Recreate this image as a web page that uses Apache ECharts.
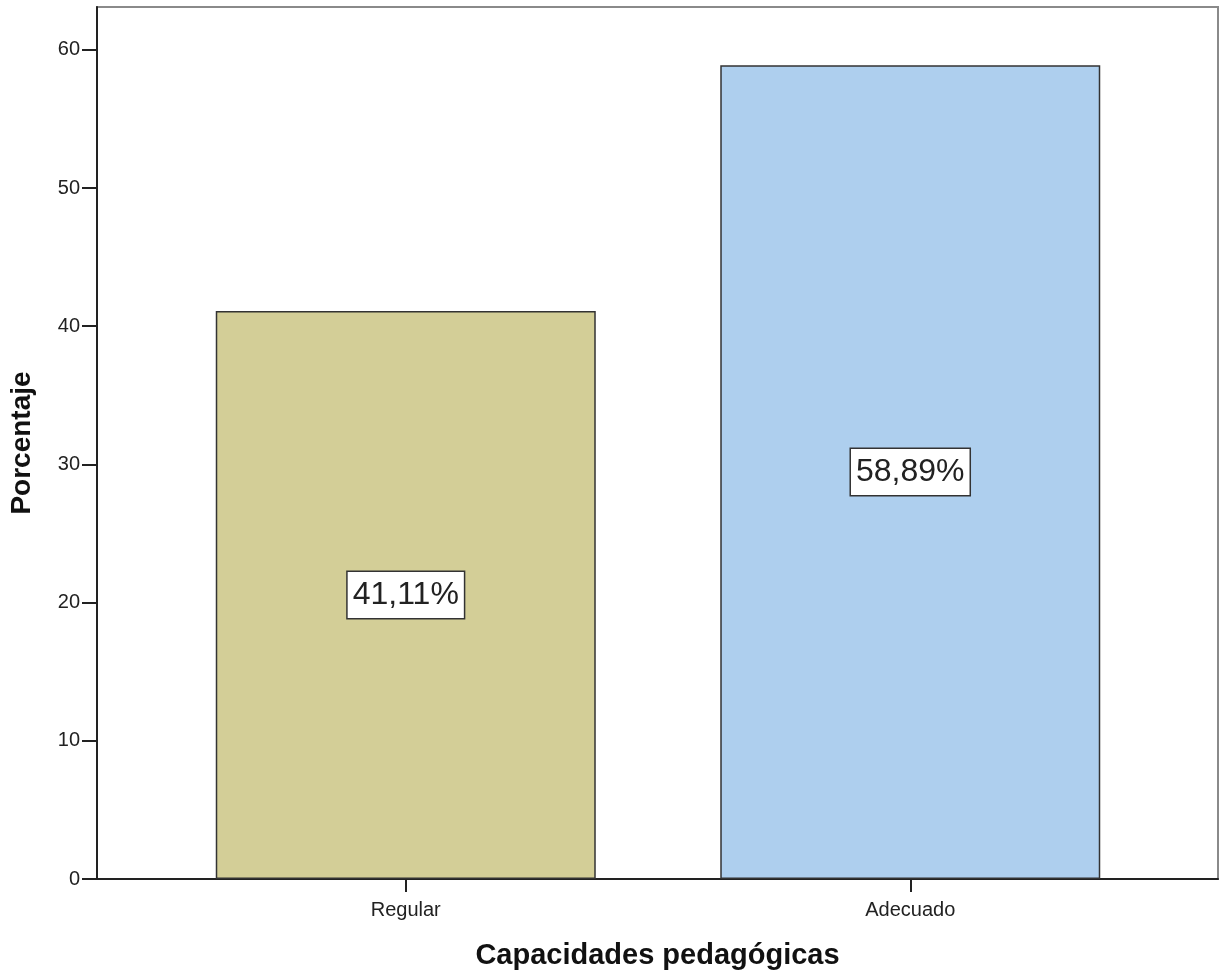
<!DOCTYPE html>
<html>
<head>
<meta charset="utf-8">
<script src="https://cdn.jsdelivr.net/npm/echarts@6/dist/echarts.min.js"></script>
<style>
  html, body { margin: 0; padding: 0; background: #fff; }
  #box { width: 1221px; height: 975px; }
</style>
</head>
<body>
<div id="box"></div>
<script>
var categories = ['Regular', 'Adecuado'];
var percentages = [41.11, 58.89];
var barColors = ['#d3ce97', '#aecfee'];
var yTicks = [0, 10, 20, 30, 40, 50, 60];

var myChart = echarts.init(document.getElementById('box'));
var font = 'Liberation Sans, Arial, sans-serif';

// barras sobre eje numerico: posicion 0 y 1 = categorias
var barData = categories.map(function (c, i) {
    return {
        value: [i, percentages[i]],
        itemStyle: { color: barColors[i] }
    };
});

var option = {
    animation: false,
    textStyle: { fontFamily: font },
    grid: {
        left: 96, right: 3, top: 7, bottom: 92,
        show: true,
        borderColor: '#8a8a8a',
        borderWidth: 2,
        backgroundColor: '#fff'
    },
    xAxis: {
        type: 'value',
        min: -0.612,
        max: 1.61,
        splitLine: { show: false },
        axisLine: { show: true, onZero: false, lineStyle: { color: '#222', width: 2 } },
        axisTick: { show: true, customValues: [0, 1], length: 13, lineStyle: { color: '#222', width: 2 } },
        axisLabel: {
            customValues: [0, 1],
            margin: 21,
            color: '#222',
            fontSize: 20,
            fontFamily: font,
            formatter: function (v) { return categories[Math.round(v)]; }
        },
        name: 'Capacidades pedagógicas',
        nameLocation: 'middle',
        nameGap: 62,
        nameTextStyle: { fontSize: 29, fontWeight: 'bold', color: '#111', fontFamily: font }
    },
    yAxis: {
        type: 'value',
        min: 0,
        max: 63.1,
        splitLine: { show: false },
        axisLine: { show: true, onZero: false, lineStyle: { color: '#222', width: 2 } },
        axisTick: { show: true, customValues: yTicks, length: 15, lineStyle: { color: '#222', width: 2 } },
        axisLabel: {
            customValues: yTicks,
            margin: 17,
            color: '#222',
            fontSize: 20,
            fontFamily: font
        },
        name: 'Porcentaje',
        nameLocation: 'middle',
        nameGap: 61,
        nameTextStyle: { fontSize: 28, fontWeight: 'bold', color: '#111', fontFamily: font }
    },
    series: [{
        type: 'bar',
        barWidth: 380,
        data: barData,
        itemStyle: { borderColor: '#333', borderWidth: 1.5 },
        label: {
            show: true,
            position: 'inside',
            fontSize: 32,
            fontFamily: font,
            color: '#222',
            backgroundColor: '#fff',
            borderColor: '#333',
            borderWidth: 1.5,
            padding: [8, 5, 6, 5],
            formatter: function (p) {
                return p.value[1].toFixed(2).replace('.', ',') + '%';
            }
        }
    }]
};

myChart.setOption(option);
</script>
</body>
</html>
